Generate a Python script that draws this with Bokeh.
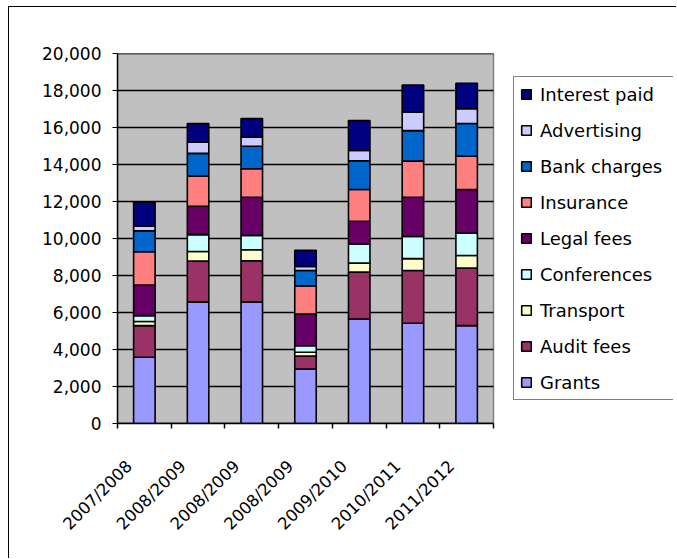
from math import pi

from bokeh.embed import file_html
from bokeh.models import (ColumnDataSource, FixedTicker, Legend, LegendItem,
                          NumeralTickFormatter, Range1d)
from bokeh.plotting import figure
from bokeh.resources import INLINE

# Financial years (the middle three periods share the same label)
years = ["2007/2008", "2008/2009", "2008/2009", "2008/2009",
         "2009/2010", "2010/2011", "2011/2012"]

# Cost categories, bottom of the stack first
grants = [3580, 6560, 6560, 2950, 5640, 5420, 5290]
audit_fees = [1710, 2220, 2240, 700, 2540, 2850, 3110]
transport = [220, 520, 590, 200, 490, 640, 680]
conferences = [320, 910, 780, 350, 1030, 1200, 1220]
legal_fees = [1650, 1530, 2060, 1720, 1230, 2120, 2350]
insurance = [1800, 1630, 1540, 1520, 1720, 1950, 1800]
bank_charges = [1130, 1230, 1220, 830, 1550, 1650, 1770]
advertising = [250, 610, 490, 220, 560, 1000, 800]
interest_paid = [1300, 1000, 1000, 870, 1620, 1470, 1370]

y_ticks = list(range(0, 20001, 2000))

series_names = ["Grants", "Audit fees", "Transport", "Conferences", "Legal fees",
                "Insurance", "Bank charges", "Advertising", "Interest paid"]
series_values = [grants, audit_fees, transport, conferences, legal_fees,
                 insurance, bank_charges, advertising, interest_paid]
colors = ["#9999FF", "#993366", "#FFFFCC", "#CCFFFF", "#660066",
          "#FF8080", "#0066CC", "#CCCCFF", "#000080"]

FONT = "DejaVu Sans"

n = len(years)
y_max = y_ticks[-1]

# one slot per period, bars centred in their slot
positions = [i + 0.5 for i in range(n)]
# rotated labels sit slightly left of the bar centre
label_positions = [x - 0.28 for x in positions]

data = {"x": positions}
keys = []
for name, vals in zip(series_names, series_values):
    key = name.lower().replace(" ", "_")
    keys.append(key)
    data[key] = vals
source = ColumnDataSource(data)

# canvas geometry: plot area 376 px wide for the n slots, legend to its right
plot_w = 376
frame_w = 556
x_end = n * frame_w / plot_w

p = figure(width=668, height=552, output_backend="svg", toolbar_location=None,
           x_range=Range1d(0, x_end), y_range=Range1d(0, y_max),
           min_border_left=108, min_border_right=4,
           min_border_top=46, min_border_bottom=136)
# chart-area frame: the canvas sits inside a thin black border
p.styles = {"margin-left": "8px", "margin-top": "6px",
            "border-left": "1px solid black", "border-top": "1px solid black"}

p.background_fill_color = "white"
p.border_fill_color = "white"
p.outline_line_color = None

# grey plot area with its grey border
p.quad(left=0, right=n, bottom=0, top=y_max, fill_color="#C0C0C0",
       line_color="#808080", line_width=1.5)
# horizontal gridlines across the plot area only
p.segment(x0=[0] * len(y_ticks), x1=[n] * len(y_ticks), y0=y_ticks, y1=y_ticks,
          line_color="black", line_width=1.5)

renderers = p.vbar_stack(keys, x="x", width=0.4, color=colors,
                         line_color="black", line_width=1.6, source=source)

# y axis
p.yaxis.ticker = FixedTicker(ticks=y_ticks)
p.yaxis.formatter = NumeralTickFormatter(format="0,0")
p.yaxis.major_tick_out = 5
p.yaxis.major_tick_in = 0
p.yaxis.minor_tick_out = 0
p.yaxis.minor_tick_in = 0
p.yaxis.major_label_standoff = 11
p.yaxis.axis_line_color = "black"
p.yaxis.axis_line_width = 1.5
p.yaxis.major_label_text_font = FONT
p.yaxis.major_label_text_font_size = "17px"
p.yaxis.major_label_text_color = "black"

# x axis: labels under each bar, tick marks between periods
p.xaxis.ticker = FixedTicker(ticks=label_positions, minor_ticks=list(range(n + 1)))
p.xaxis.major_label_overrides = {pos: lab for pos, lab in zip(label_positions, years)}
p.xaxis.bounds = (0, n)
p.xaxis.major_tick_out = 0
p.xaxis.major_tick_in = 0
p.xaxis.minor_tick_out = 5
p.xaxis.minor_tick_in = 0
p.xaxis.minor_tick_line_color = "black"
p.xaxis.minor_tick_line_width = 1.5
p.xaxis.major_label_orientation = pi / 4
p.xaxis.major_label_standoff = 35
p.xaxis.axis_line_color = "black"
p.xaxis.axis_line_width = 1.5
p.xaxis.major_label_text_font = FONT
p.xaxis.major_label_text_font_size = "16.5px"
p.xaxis.major_label_text_color = "black"

p.xgrid.visible = False
p.ygrid.visible = False

# legend, top series listed first
items = [LegendItem(label=name, renderers=[r])
         for name, r in zip(series_names, renderers)][::-1]
legend = Legend(items=items, location=(396, 23), margin=0)
legend.border_line_color = "black"
legend.border_line_width = 1.5
legend.background_fill_color = "white"
legend.background_fill_alpha = 1
legend.label_text_font = FONT
legend.label_text_font_size = "18px"
legend.label_text_color = "black"
legend.glyph_width = 12
legend.glyph_height = 12
legend.label_standoff = 8
legend.padding = 6
legend.spacing = 14
legend.label_height = 22
legend.label_width = 128
p.add_layout(legend)

open("out.html", "w").write(file_html(p, INLINE))
